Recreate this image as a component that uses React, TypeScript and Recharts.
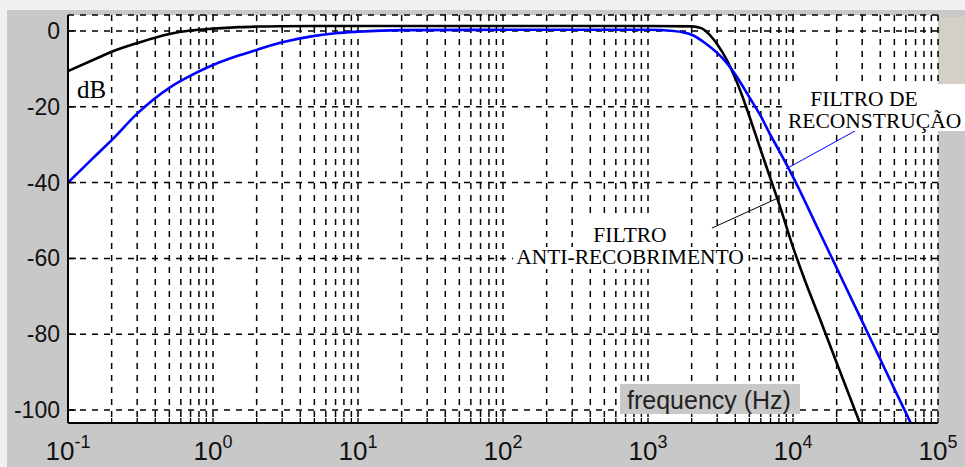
import React from 'react';
import { LineChart, Line, XAxis, YAxis, CartesianGrid, ReferenceLine } from 'recharts';

// ---- data ----
const decadeValues = [0.1, 1, 10, 100, 1000, 10000, 100000];
const decadeExponents = ['-1', '0', '1', '2', '3', '4', '5'];
const minorMultipliers = [2, 3, 4, 5, 6, 7, 8, 9];
const yTicks = [-100, -80, -60, -40, -20, 0];
const xDomain = [0.1, 100000];
const yDomain = [-103.4, 4.2];

// anti-aliasing filter (black)
const blackFreq = [0.1, 0.15, 0.2, 0.3, 0.5, 0.7, 1, 1.5, 2, 3, 5, 10, 100, 1000, 2000, 2300, 2500, 2800, 3000, 3500, 4000, 4500, 5000, 6000, 7000, 8000, 10000, 12000, 15000, 20000, 30000];
const blackDb = [-10.6, -7.6, -5.5, -3.2, -0.8, 0.1, 0.6, 1.0, 1.15, 1.25, 1.3, 1.3, 1.3, 1.3, 1.2, 0.8, 0, -2, -3.5, -7.7, -12.5, -17.5, -22.5, -31.5, -39, -45.5, -57, -65.5, -75, -87.5, -105];

// reconstruction filter (blue)
const blueFreq = [0.1, 0.15, 0.2, 0.3, 0.5, 0.7, 1, 1.5, 2, 3, 5, 7, 10, 20, 100, 1000, 1500, 2000, 2500, 3000, 3500, 4000, 5000, 6000, 7000, 8000, 10000, 15000, 20000, 30000, 50000, 70000];
const blueDb = [-40, -33.4, -28.8, -21.8, -15, -11.8, -9.0, -6.5, -5, -3, -1.3, -0.6, -0.2, 0.2, 0.3, 0.3, 0, -1.0, -3.3, -5.8, -8.5, -11.5, -17.5, -22.5, -27.5, -31.5, -38.5, -52.5, -62.5, -76.6, -94.4, -106];

// annotation pointer segments [freq, dB]
const antiPointer = [[2760, -52], [7640, -44.3]];
const reconPointer = [[27600, -26.1], [8950, -36.4]];

// ---- derived ----
const xTicks: number[] = [];
decadeValues.forEach((d, i) => {
  xTicks.push(d);
  if (i < decadeValues.length - 1) minorMultipliers.forEach((m) => xTicks.push(d * m));
});
const blackData = blackFreq.map((f, i) => ({ f, db: blackDb[i] }));
const blueData = blueFreq.map((f, i) => ({ f, db: blueDb[i] }));

const W = 965;
const H = 467;

const XTick = (props: any) => {
  const { x, y, payload } = props;
  const idx = decadeValues.findIndex((d) => Math.abs(d - payload.value) / d < 1e-9);
  if (idx < 0) return <g />;
  return (
    <text x={x} y={y} textAnchor="middle" fill="#111" fontFamily="'Liberation Sans', Arial, sans-serif" fontSize={26}>
      <tspan>10</tspan>
      <tspan dy={-12} fontSize={18}>{decadeExponents[idx]}</tspan>
    </text>
  );
};

const YTick = (props: any) => {
  const { x, y, payload } = props;
  return (
    <text x={x} y={y} textAnchor="end" dominantBaseline="central" fill="#111" fontFamily="'Liberation Sans', Arial, sans-serif" fontSize={23}>
      {payload.value}
    </text>
  );
};

const serif = "'Liberation Serif', 'Times New Roman', serif";

export default function App() {
  return (
    <div style={{ position: 'absolute', left: 0, top: 0, width: W, height: H, background: '#c8c8c8', overflow: 'hidden' }}>
      <div style={{ position: 'absolute', left: 0, top: 0, width: W, height: 10, background: '#f0f0f0' }} />
      <div style={{ position: 'absolute', left: 0, top: 0, width: 7, height: H, background: '#f0f0f0' }} />
      <div style={{ position: 'absolute', left: 940, top: 17, width: 25, height: 84, background: '#d4d0c8' }} />
      <div style={{ position: 'absolute', left: 0, top: 0 }}>
        <LineChart width={W} height={H} margin={{ top: 15, right: 27, bottom: 14, left: 8 }}>
          <CartesianGrid xAxisId={0} yAxisId={0} stroke="#000" strokeWidth={1.5} strokeDasharray="6 6" fill="#fff" fillOpacity={1} />
          <XAxis xAxisId={0} dataKey="f" type="number" scale="log" domain={xDomain} allowDataOverflow ticks={xTicks} interval={0} height={30} tickSize={-5} tickMargin={42} tick={<XTick />} axisLine={{ stroke: '#000', strokeWidth: 2 }} tickLine={{ stroke: '#000', strokeWidth: 1.3 }} />
          <XAxis xAxisId="top" orientation="top" dataKey="f" type="number" scale="log" domain={xDomain} allowDataOverflow ticks={xTicks} interval={0} height={0} tickSize={-5} tick={false} axisLine={{ stroke: '#000', strokeWidth: 2 }} tickLine={{ stroke: '#000', strokeWidth: 1.3 }} />
          <YAxis yAxisId={0} type="number" domain={yDomain} allowDataOverflow ticks={yTicks} interval={0} width={60} tickSize={-8} tickMargin={16} tick={<YTick />} axisLine={{ stroke: '#000', strokeWidth: 2 }} tickLine={{ stroke: '#000', strokeWidth: 1.5 }} />
          <YAxis yAxisId="right" orientation="right" type="number" domain={yDomain} allowDataOverflow ticks={yTicks} interval={0} width={0} tickSize={-8} tick={false} axisLine={{ stroke: '#000', strokeWidth: 2 }} tickLine={{ stroke: '#000', strokeWidth: 1.5 }} />
          <ReferenceLine xAxisId={0} yAxisId={0} segment={[{ x: antiPointer[0][0], y: antiPointer[0][1] }, { x: antiPointer[1][0], y: antiPointer[1][1] }]} stroke="#000" strokeWidth={1} />
          <ReferenceLine xAxisId={0} yAxisId={0} segment={[{ x: reconPointer[0][0], y: reconPointer[0][1] }, { x: reconPointer[1][0], y: reconPointer[1][1] }]} stroke="#0000ff" strokeWidth={1} />
          <Line xAxisId={0} yAxisId={0} data={blackData} dataKey="db" type="monotone" stroke="#000" strokeWidth={2.6} dot={false} isAnimationActive={false} />
          <Line xAxisId={0} yAxisId={0} data={blueData} dataKey="db" type="monotone" stroke="#0000ff" strokeWidth={2.6} dot={false} isAnimationActive={false} />
        </LineChart>
      </div>
      <svg width={W} height={H} style={{ position: 'absolute', left: 0, top: 0, pointerEvents: 'none' }}>
        <rect x={785} y={84} width={180} height={47} fill="#fff" />
        <text x={864} y={106} textAnchor="middle" fontFamily={serif} fontSize={21.5} fill="#000">FILTRO DE</text>
        <text x={788} y={128} textAnchor="start" fontFamily={serif} fontSize={21.5} fill="#000">RECONSTRUÇÃO</text>
        <rect x={585} y={219} width={92} height={28} fill="#fff" />
        <rect x={513} y={247} width={235} height={22} fill="#fff" />
        <text x={630} y={242} textAnchor="middle" fontFamily={serif} fontSize={21.5} fill="#000">FILTRO</text>
        <text x={630} y={264} textAnchor="middle" fontFamily={serif} fontSize={21.5} fill="#000">ANTI-RECOBRIMENTO</text>
        <text x={77} y={98} fontFamily={serif} fontSize={25} fill="#000">dB</text>
        <rect x={620} y={384} width={180} height={30} fill="#c8c8c8" />
        <text x={627} y={409} fontFamily="'Liberation Sans', Arial, sans-serif" fontSize={25} fill="#222">frequency (Hz)</text>
      </svg>
    </div>
  );
}
